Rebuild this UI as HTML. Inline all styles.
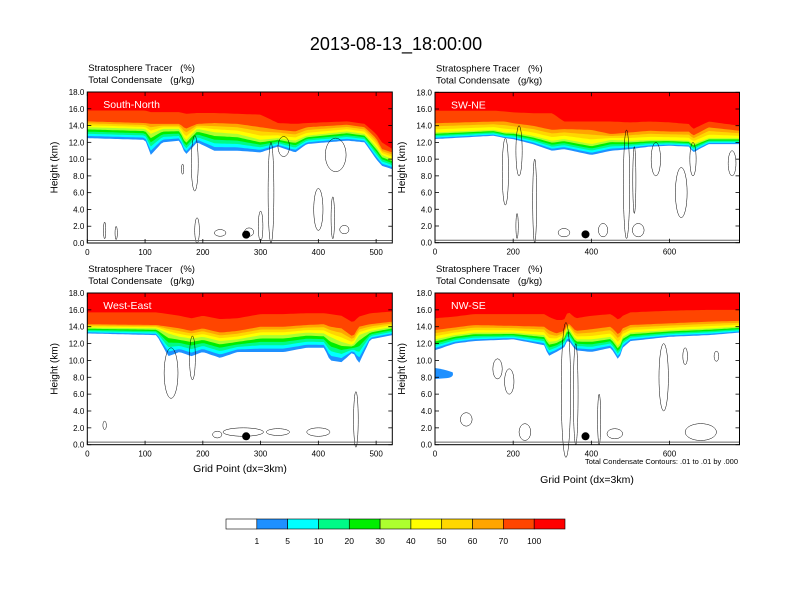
<!DOCTYPE html>
<html><head><meta charset="utf-8"><style>
body{margin:0;background:#fff;width:792px;height:612px;overflow:hidden;font-family:"Liberation Sans",sans-serif}
svg{display:block}
</style></head><body>
<svg id="s" width="792" height="612" viewBox="0 0 792 612" xmlns="http://www.w3.org/2000/svg">
<text x="396" y="50" font-size="18" text-anchor="middle">2013-08-13_18:00:00</text>
</svg>
<script>
const colors=["#1e90ff","#00ffff","#00fa87","#00ee00","#adff2f","#ffff00","#ffd700","#ffa500","#ff4500","#ff0000"];
const cbLabels=["1","5","10","20","30","40","50","60","70","100"];
const panelNames=["South-North","SW-NE","West-East","NW-SE"];
const p1x=[0,100,110,130,160,170,190,220,260,300,330,360,380,450,480,500,510,528];
const p1base=[12.5,12.3,10.5,12,12.2,10.5,12,11,11,10.8,11.5,10.8,11.8,12.2,12,10,9.2,8.8];
const p1y40=[13.8,13.6,13,13.6,13.6,12.2,13.6,13.2,13,12.3,12.5,12.2,12.8,13.3,13,11.5,10.5,10];
const p1y70=[14.5,14.3,14.2,14.2,14.2,13.6,14.2,14.3,14.2,13.8,13.5,13.3,13.8,14.1,13.8,12.5,11.2,10.8];
const p1y100=[15.8,15.8,15.6,15.6,15.6,15.4,15.5,15.5,15.4,15.3,14.3,14.2,14.3,14.5,14.2,13,12,11.2];
const p2x=[0,150,180,200,250,300,330,400,450,500,550,600,650,660,700,779];
const p2base=[12.4,12.8,12.5,12.4,11.8,11,11.2,10.5,11,11.2,11.5,11.6,11.5,10.8,11.8,11.8];
const p2y40=[13.2,13.5,13.2,13.2,12.8,12.2,12.4,11.8,12.3,12.2,12.3,12.3,12.2,11.8,12.5,12.5];
const p2y70=[14.3,14.5,14.5,14.3,14,13.5,13.6,13.5,13,13.2,13.4,13.3,13.3,12.8,13.8,13.4];
const p2y100=[15.8,15.8,15.7,15.6,15.5,15.5,14.5,14.5,14.5,14.4,14.5,14.4,14.2,13.6,14.5,14];
const p3x=[0,120,140,160,180,200,230,260,300,340,380,410,420,440,460,470,490,528];
const p3base=[13.2,13,10.5,11,10.5,11,10.3,11,11,11,11.5,11.5,10,9.8,11,9.6,12.5,13];
const p3y40=[13.9,13.8,13.2,12.8,12.6,12.8,12.3,12.5,13,13,13.3,13.2,12.8,12.2,11.8,13,13.5,14];
const p3y70=[14.3,14.2,14,13.8,13.5,13.8,13.3,13.5,14,14,14.2,14.3,14,13.8,12.8,14,14.3,14.6];
const p3y100=[15.7,15.7,15.5,15.3,15,15.3,14.9,15,15.5,15.5,15.6,15.6,15.5,15.3,14.5,15.2,15.6,15.8];
const p4x=[0,50,100,200,280,290,310,330,340,360,400,450,470,480,500,600,700,779];
const p4base=[11.2,12,12.3,12.5,11.8,10.5,11,11.5,12.5,11.2,11,11.5,10,11.5,12.3,12.8,13,13.3];
const p4y40=[12.5,13,13.3,13.3,13,12.2,12.3,12.8,14,12.5,12.5,12.8,11.6,12.8,13.3,13.6,13.8,14];
const p4y70=[13.6,13.9,14.2,14.1,14,13.6,13.2,13.5,14.5,13.5,13.7,14,13,13.8,14.2,14.4,14.6,14.7];
const p4y100=[15,15.2,15.5,15.5,15.5,15.2,14.8,14.8,15.8,15,15.3,15.5,14.8,15.3,15.7,15.9,16,16];
// contour blobs: [x, yCenter, halfWidth(grid), halfHeight(km)]
const p1blobs=[[186,9.5,6,3.3],[165,8.8,2,0.6],[318,6,5,6],[340,11.5,10,1.2],[400,4,8,2.5],[425,3,3,2.5],[430,10.5,18,2],[30,1.5,2,1],[50,1.2,2,0.8],[190,1.5,4,1.5],[230,1.2,10,0.4],[280,1.3,8,0.5],[300,2,4,1.8],[445,1.6,8,0.5]];
const p2blobs=[[180,8.5,8,4],[215,11,8,3],[255,5,5,5],[490,7,8,6.5],[510,7.5,4,4],[565,10,12,2],[630,6,15,3],[660,10,8,2],[760,9.5,10,1.5],[210,2,3,1.5],[330,1.2,15,0.5],[430,1.5,12,0.8],[520,1.5,15,0.8]];
const p3blobs=[[145,8.5,12,3],[182,10.3,5,2.6],[270,1.5,35,0.5],[330,1.5,20,0.4],[400,1.5,20,0.5],[465,3,4,3.3],[30,2.3,3,0.5],[225,1.2,8,0.4]];
const p4blobs=[[80,3,15,0.8],[160,9,12,1.2],[190,7.5,12,1.5],[335,6.5,12,8],[360,6,6,6],[420,3,4,3],[585,8,12,4],[640,10.5,6,1],[720,10.5,6,0.6],[230,1.5,15,1],[460,1.3,20,0.6],[680,1.5,40,1]];
const markers=[[275,1],[385,1],[275,1],[385,1]];

const S=document.getElementById('s');
const NS="http://www.w3.org/2000/svg";
function mk(t,a,p){const e=document.createElementNS(NS,t);for(const k in a)e.setAttribute(k,a[k]);(p||S).appendChild(e);return e;}
function interp(xs,ys,x){for(let i=0;i<xs.length-1;i++){if(x<=xs[i+1]){const t=(x-xs[i])/(xs[i+1]-xs[i]);return ys[i]+t*(ys[i+1]-ys[i]);}}return ys[ys.length-1];}

const panels=[
 {x0:87.3,x1:392.3,y0:92,y1:243,xmax:528,tick:100,xs:p1x,b:p1base,a:p1y40,c:p1y70,d:p1y100,blobs:p1blobs},
 {x0:435,x1:739.5,y0:92.3,y1:242.7,xmax:779,tick:200,xs:p2x,b:p2base,a:p2y40,c:p2y70,d:p2y100,blobs:p2blobs},
 {x0:87.3,x1:392.3,y0:293,y1:444.7,xmax:528,tick:100,xs:p3x,b:p3base,a:p3y40,c:p3y70,d:p3y100,blobs:p3blobs},
 {x0:435,x1:739.5,y0:293,y1:444.7,xmax:779,tick:200,xs:p4x,b:p4base,a:p4y40,c:p4y70,d:p4y100,blobs:p4blobs}
];

panels.forEach((P,pi)=>{
 const g=mk('g',{});
 
 
 const sx=v=>P.x0+v/P.xmax*(P.x1-P.x0);
 const sy=v=>P.y1-v/18*(P.y1-P.y0);
 const N=120;const gx=[];for(let i=0;i<=N;i++)gx.push(i/N*P.xmax);
 function lev(k,x){
  const b=interp(P.xs,P.b,x),a=interp(P.xs,P.a,x),c=interp(P.xs,P.c,x),d=interp(P.xs,P.d,x);
  if(k<=5)return b+(a-b)*k/5;
  if(k<=8)return a+(c-a)*(k-5)/3;
  return d;
 }
 for(let k=0;k<10;k++){
  let pts=gx.map(x=>sx(x).toFixed(1)+','+sy(lev(k,x)).toFixed(1));
  pts.push(P.x1+','+P.y0,P.x0+','+P.y0);
  const poly=mk('polygon',{points:pts.join(' '),fill:colors[k]},g);
  
  
 }
 if(pi===3){
  const bl=mk('path',{d:`M${sx(0)},${sy(7.8)} L${sx(30)},${sy(7.9)} Q${sx(50)},${sy(8)} ${sx(45)},${sy(8.6)} Q${sx(20)},${sy(9)} ${sx(0)},${sy(9.1)} Z`,fill:colors[0]},g);
  
  
 }
 P.blobs.forEach(bb=>{
  const e=mk('ellipse',{cx:sx(bb[0]),cy:sy(bb[1]),rx:bb[2]/P.xmax*(P.x1-P.x0),ry:bb[3]/18*(P.y1-P.y0),fill:'none',stroke:'#000','stroke-width':0.5},g);
  
  
 });
 const gl=mk('line',{x1:P.x0,x2:P.x1,y1:sy(0.3),y2:sy(0.3),stroke:'#666','stroke-width':1},g);
 
 
 const dot=mk('circle',{cx:sx(markers[pi][0]),cy:sy(markers[pi][1]),r:4,fill:'#000'},g);
 
 
 const fr=mk('rect',{x:P.x0,y:P.y0,width:P.x1-P.x0,height:P.y1-P.y0,fill:'none',stroke:'#000','stroke-width':1},g);
 
 
 for(let v=0;v<=18;v+=2){
  const y=sy(v);
  mk('line',{x1:P.x0,x2:P.x0+4,y1:y,y2:y,stroke:'#000','stroke-width':0.8},g);
  mk('line',{x1:P.x1,x2:P.x1-4,y1:y,y2:y,stroke:'#000','stroke-width':0.8},g);
  const t=mk('text',{x:P.x0-3,y:y+3,'font-size':8,'text-anchor':'end'},g);
  t.textContent=v.toFixed(1);
  
  
 }
 for(let v=0;v<=P.xmax;v+=P.tick){
  const x=sx(v);
  mk('line',{x1:x,x2:x,y1:P.y1,y2:P.y1-4,stroke:'#000','stroke-width':0.8},g);
  mk('line',{x1:x,x2:x,y1:P.y0,y2:P.y0+4,stroke:'#000','stroke-width':0.8},g);
  const t=mk('text',{x:x,y:P.y1+12,'font-size':8,'text-anchor':'middle'},g);
  t.textContent=v;
  
  
 }
 const yt=mk('text',{x:0,y:0,'font-size':10,'text-anchor':'middle',transform:`translate(${P.x0-30},${(P.y0+P.y1)/2}) rotate(-90)`},g);
 yt.textContent='Height (km)';
 
 
 const l1=mk('text',{x:P.x0+1,y:P.y0-21,'font-size':9.5},g);
 l1.textContent='Stratosphere Tracer   (%)';
 l1.setAttribute('style','white-space:pre');
 
 
 const l2=mk('text',{x:P.x0+1,y:P.y0-9,'font-size':9.5},g);
 l2.textContent='Total Condensate   (g/kg)';
 l2.setAttribute('style','white-space:pre');
 
 
 const nm=mk('text',{x:P.x0+16,y:P.y0+16,'font-size':10.5,fill:'#fff'},g);
 nm.textContent=panelNames[pi];
 
 
});
const xt1=mk('text',{x:240,y:472,'font-size':10.5,'text-anchor':'middle'});
xt1.textContent='Grid Point (dx=3km)';


const xt2=mk('text',{x:587,y:483,'font-size':10.5,'text-anchor':'middle'});
xt2.textContent='Grid Point (dx=3km)';


const cn=mk('text',{x:738,y:464,'font-size':7.5,'text-anchor':'end'});
cn.textContent='Total Condensate Contours: .01 to .01 by .000';


const cbColors=["#ffffff"].concat(colors);
const cbx0=226,cbw=(565-226)/11;
cbColors.forEach((c,i)=>{
 const r=mk('rect',{x:cbx0+i*cbw,y:519,width:cbw,height:10,fill:c,stroke:'#000','stroke-width':0.6});
 
 
});
cbLabels.forEach((l,i)=>{
 const t=mk('text',{x:cbx0+(i+1)*cbw,y:544,'font-size':8.5,'text-anchor':'middle'});
 t.textContent=l;
 
 
});
</script>
</body></html>
